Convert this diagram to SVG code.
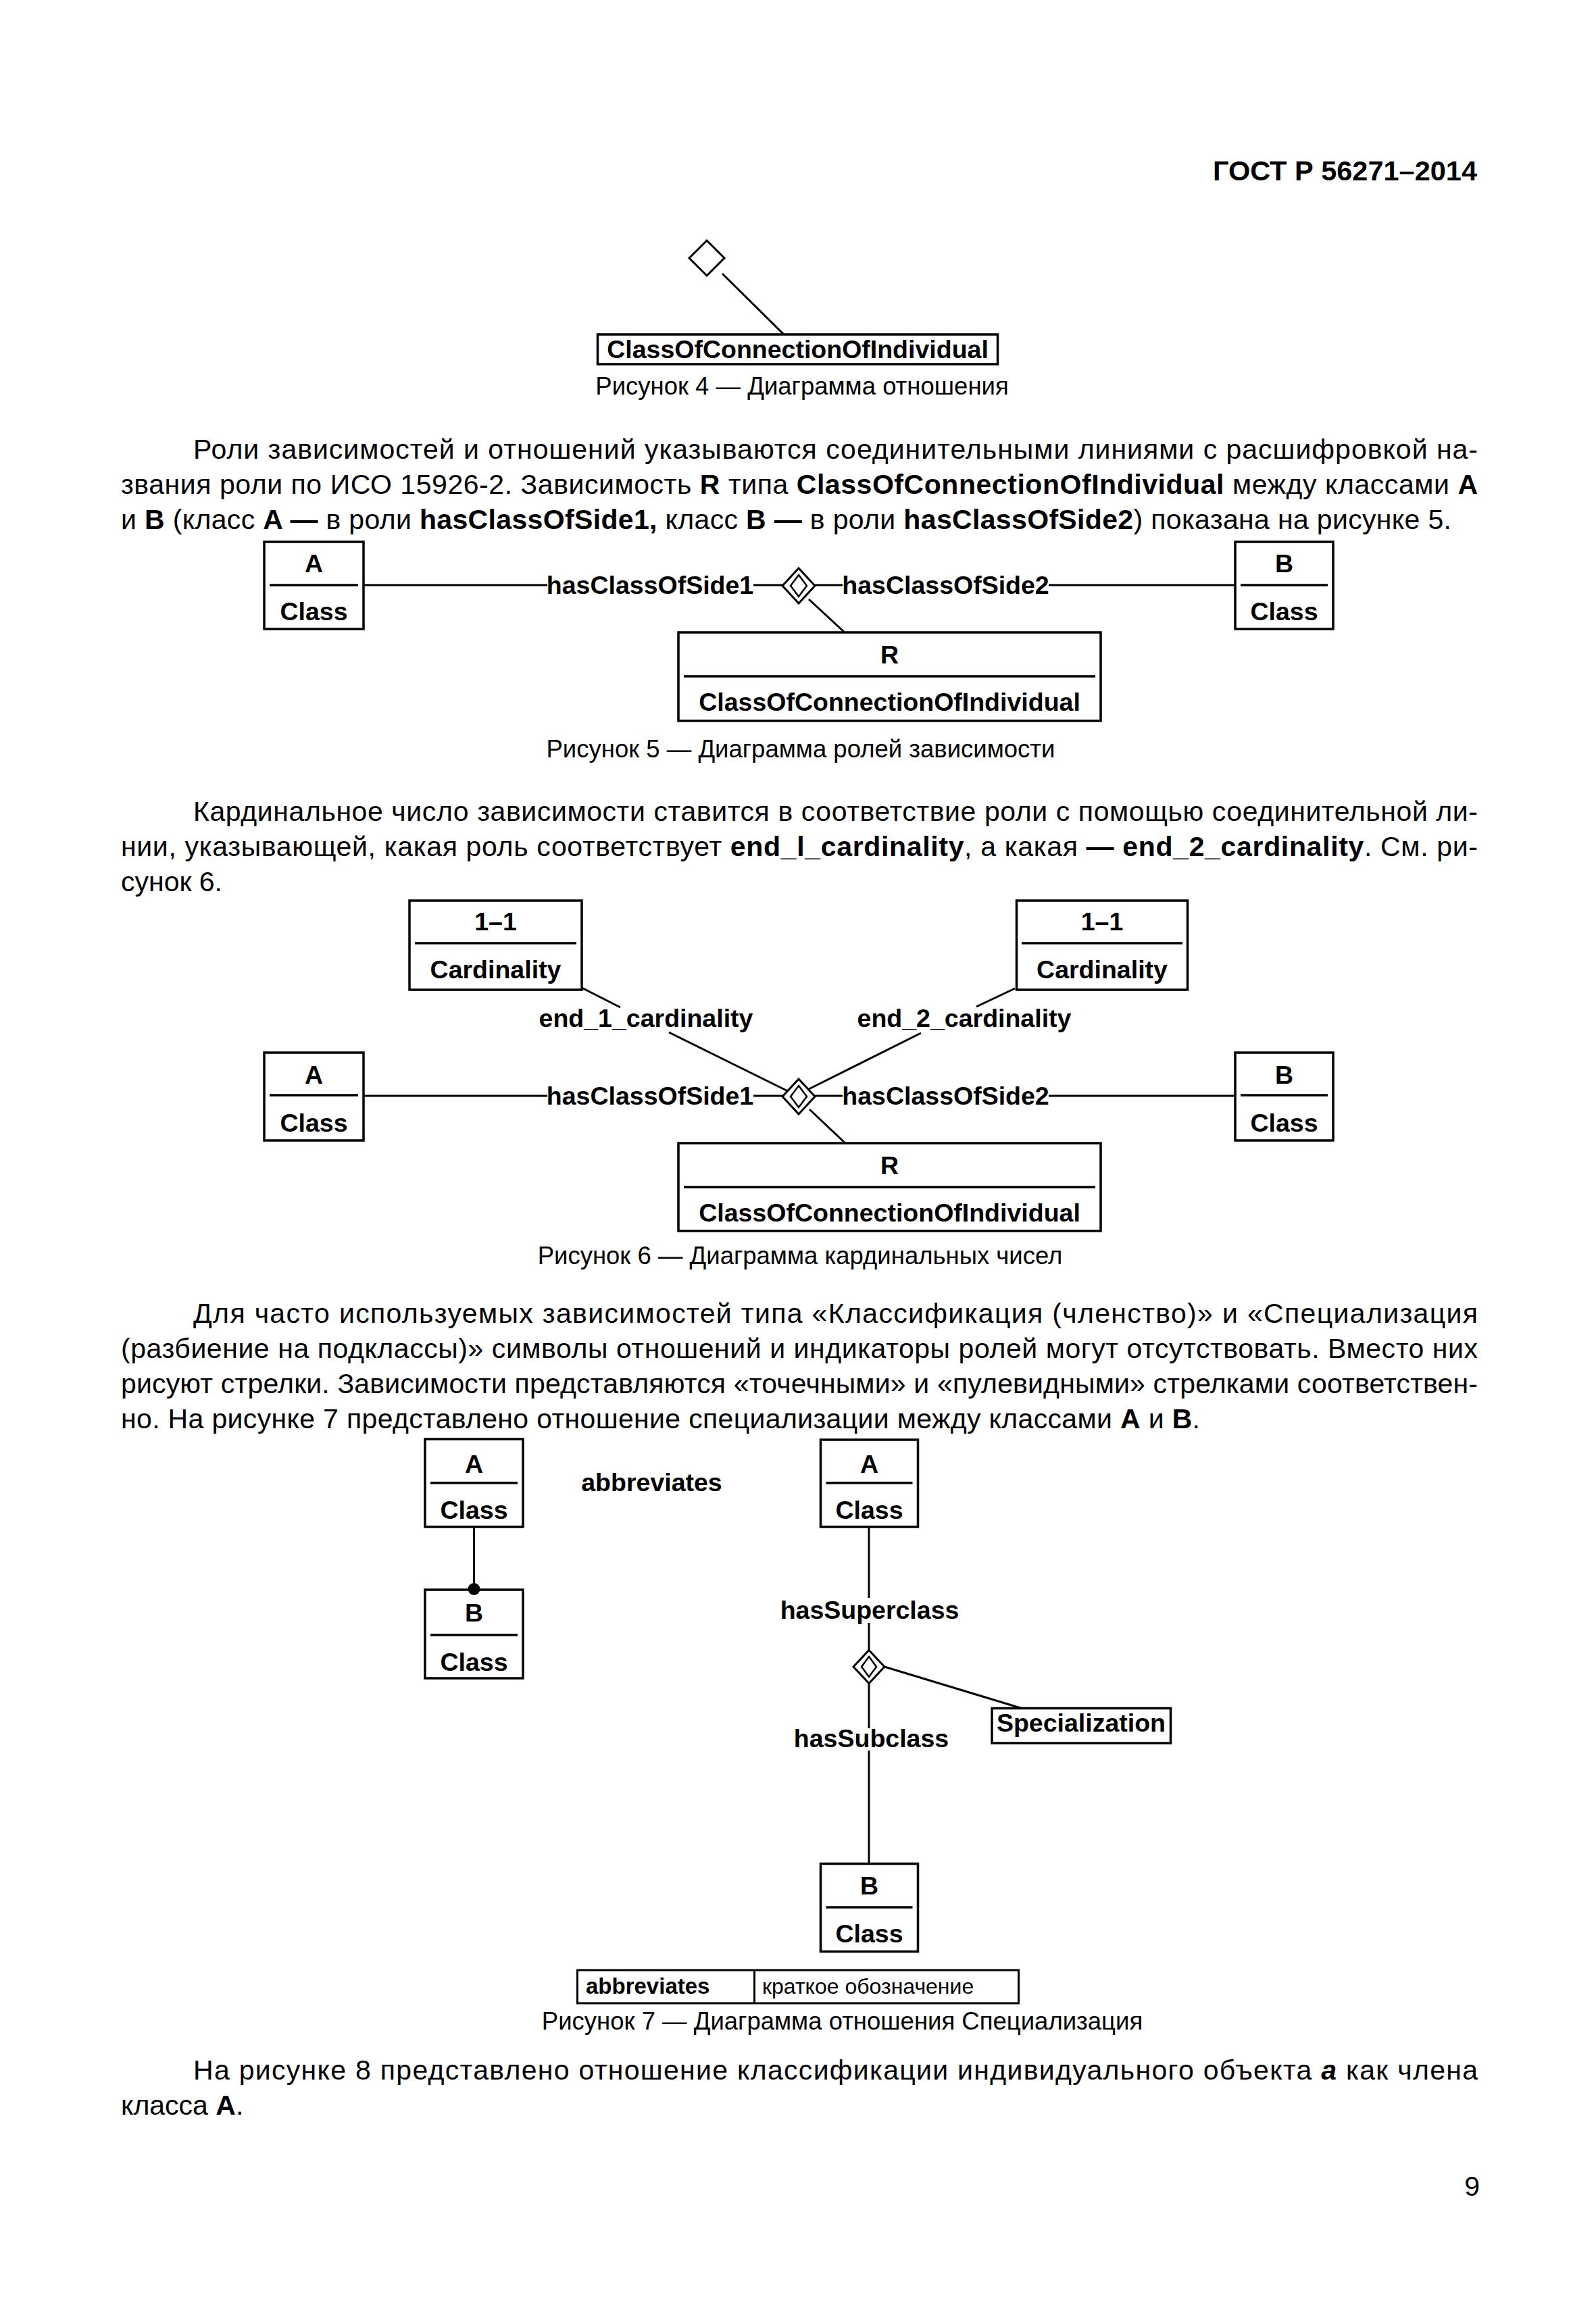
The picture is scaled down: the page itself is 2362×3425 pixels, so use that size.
<svg xmlns="http://www.w3.org/2000/svg" width="2362" height="3425" viewBox="0 0 2362 3425">
<style>
text{font-family:"Liberation Sans",Arial,sans-serif;fill:#000}
.hd{font-size:41.5px;font-weight:bold;text-anchor:end}
.p{font-size:41px}
.cap{font-size:36.5px;text-anchor:middle}
.lb{font-size:37.5px;font-weight:bold;text-anchor:middle}
.bx{fill:#fff;stroke:#000;stroke-width:3.5}
.dv{stroke:#000;stroke-width:3.5;fill:none}
.ln{stroke:#000;stroke-width:3;fill:none}
.dm{fill:#fff;stroke:#000;stroke-width:3}
.dmi{fill:none;stroke:#000;stroke-width:2.5}
</style>
<rect width="2362" height="3425" fill="#fff"/>
<text class="hd" x="2186" y="267">ГОСТ Р 56271–2014</text>

<!-- Figure 4 -->
<g id="fig4-diamond"><path class="dm" stroke-width="3.5" d="M1046,356 L1072,382 L1046,408 L1020,382 Z"/></g>
<g id="fig4-coi"><rect class="bx" x="884.5" y="495" width="592" height="44"/><text class="lb" x="1180.5" y="530">ClassOfConnectionOfIndividual</text></g>
<g id="fig4-connectors"><path class="ln" d="M1069,405 L1160,495"/></g>
<text class="cap" x="1187" y="584">Рисунок 4 — Диаграмма отношения</text>

<!-- Paragraph 1 -->
<text class="p" x="286" y="679" textLength="1901" lengthAdjust="spacing">Роли зависимостей и отношений указываются соединительными линиями с расшифровкой на-</text>
<text class="p" x="179" y="731" textLength="2008" lengthAdjust="spacing">звания роли по ИСО 15926-2. Зависимость <tspan font-weight="bold">R</tspan> типа <tspan font-weight="bold">ClassOfConnectionOfIndividual</tspan> между классами <tspan font-weight="bold">A</tspan></text>
<text class="p" x="179" y="783" textLength="1969" lengthAdjust="spacing">и <tspan font-weight="bold">B</tspan> (класс <tspan font-weight="bold">A —</tspan> в роли <tspan font-weight="bold">hasClassOfSide1,</tspan> класс <tspan font-weight="bold">B —</tspan> в роли <tspan font-weight="bold">hasClassOfSide2</tspan>) показана на рисунке 5.</text>

<!-- Figure 5 -->
<g id="fig5-A"><rect class="bx" x="391" y="802" width="147" height="129"/><path class="dv" d="M399,866 H530"/><text class="lb" x="464.5" y="847">A</text><text class="lb" x="464.5" y="918">Class</text></g>
<g id="fig5-B"><rect class="bx" x="1828" y="802" width="145" height="129"/><path class="dv" d="M1836,866 H1965"/><text class="lb" x="1900.5" y="847">B</text><text class="lb" x="1900.5" y="918">Class</text></g>
<g id="fig5-R"><rect class="bx" x="1004" y="936" width="625" height="131"/><path class="dv" d="M1012,1001 H1621"/><text class="lb" x="1316.5" y="982">R</text><text class="lb" x="1316.5" y="1052">ClassOfConnectionOfIndividual</text></g>
<g id="fig5-relation"><path class="dm" d="M1182,841 L1206,867 L1182,893 L1158,867 Z"/><path class="dmi" d="M1182,851 L1194,867 L1182,883 L1170,867 Z"/></g>
<g id="fig5-connectors">
<path class="ln" d="M538,866 H810 M1115,866 H1158 M1206,866 H1247 M1552,866 H1828 M1197,887 L1250,936"/>
<text class="lb" x="962" y="879">hasClassOfSide1</text>
<text class="lb" x="1399.5" y="879">hasClassOfSide2</text>
</g>
<text class="cap" x="1185" y="1121">Рисунок 5 — Диаграмма ролей зависимости</text>

<!-- Paragraph 2 -->
<text class="p" x="286" y="1215" textLength="1901" lengthAdjust="spacing">Кардинальное число зависимости ставится в соответствие роли с помощью соединительной ли-</text>
<text class="p" x="179" y="1267" textLength="2008" lengthAdjust="spacing">нии, указывающей, какая роль соответствует <tspan font-weight="bold">end_l_cardinality</tspan>, а какая <tspan font-weight="bold">— end_2_cardinality</tspan>. См. ри-</text>
<text class="p" x="179" y="1319">сунок 6.</text>

<!-- Figure 6 -->
<g id="fig6-card1"><rect class="bx" x="606" y="1333" width="255" height="132"/><path class="dv" d="M614,1396 H853"/><text class="lb" x="733.5" y="1377">1–1</text><text class="lb" x="733.5" y="1448">Cardinality</text></g>
<g id="fig6-card2"><rect class="bx" x="1504.5" y="1333" width="253" height="132"/><path class="dv" d="M1512,1396 H1750"/><text class="lb" x="1631" y="1377">1–1</text><text class="lb" x="1631" y="1448">Cardinality</text></g>
<g id="fig6-A"><rect class="bx" x="391" y="1558" width="147" height="130"/><path class="dv" d="M399,1621 H530"/><text class="lb" x="464.5" y="1604">A</text><text class="lb" x="464.5" y="1675">Class</text></g>
<g id="fig6-B"><rect class="bx" x="1828" y="1558" width="145" height="130"/><path class="dv" d="M1836,1621 H1965"/><text class="lb" x="1900.5" y="1604">B</text><text class="lb" x="1900.5" y="1675">Class</text></g>
<g id="fig6-R"><rect class="bx" x="1004" y="1692" width="625" height="130"/><path class="dv" d="M1012,1757 H1621"/><text class="lb" x="1316.5" y="1738">R</text><text class="lb" x="1316.5" y="1808">ClassOfConnectionOfIndividual</text></g>
<g id="fig6-relation"><path class="dm" d="M1182,1597 L1206,1623 L1182,1649 L1158,1623 Z"/><path class="dmi" d="M1182,1607 L1194,1623 L1182,1639 L1170,1623 Z"/></g>
<g id="fig6-connectors">
<path class="ln" d="M538,1622 H810 M1115,1622 H1158 M1206,1622 H1247 M1552,1622 H1828 M1198,1642 L1251,1692"/>
<path class="ln" d="M861,1462 L918,1491 M990,1528 L1166,1615 M1502,1463 L1445,1490 M1363,1529 L1197,1612"/>
<text class="lb" x="962" y="1635">hasClassOfSide1</text>
<text class="lb" x="1399.5" y="1635">hasClassOfSide2</text>
<text class="lb" x="956" y="1520">end_1_cardinality</text>
<text class="lb" x="1427" y="1520">end_2_cardinality</text>
</g>
<text class="cap" x="1184" y="1871">Рисунок 6 — Диаграмма кардинальных чисел</text>

<!-- Paragraph 3 -->
<text class="p" x="286" y="1958" textLength="1901" lengthAdjust="spacing">Для часто используемых зависимостей типа «Классификация (членство)» и «Специализация</text>
<text class="p" x="179" y="2010" textLength="2008" lengthAdjust="spacing">(разбиение на подклассы)» символы отношений и индикаторы ролей могут отсутствовать. Вместо них</text>
<text class="p" x="179" y="2062" textLength="2008" lengthAdjust="spacing">рисуют стрелки. Зависимости представляются «точечными» и «пулевидными» стрелками соответствен-</text>
<text class="p" x="179" y="2114" textLength="1597" lengthAdjust="spacing">но. На рисунке 7 представлено отношение специализации между классами <tspan font-weight="bold">A</tspan> и <tspan font-weight="bold">B</tspan>.</text>

<!-- Figure 7 -->
<g id="fig7-A-left"><rect class="bx" x="629" y="2130" width="145" height="130"/><path class="dv" d="M637,2195 H766"/><text class="lb" x="701.5" y="2180">A</text><text class="lb" x="701.5" y="2248">Class</text></g>
<g id="fig7-B-left"><rect class="bx" x="629" y="2353" width="145" height="131"/><path class="dv" d="M637,2420 H766"/><text class="lb" x="701.5" y="2400">B</text><text class="lb" x="701.5" y="2473">Class</text></g>
<text class="lb" x="964.5" y="2207" font-size="35">abbreviates</text>
<g id="fig7-A-right"><rect class="bx" x="1214.5" y="2131" width="144" height="129"/><path class="dv" d="M1222.5,2195 H1350.5"/><text class="lb" x="1286.5" y="2180">A</text><text class="lb" x="1286.5" y="2248">Class</text></g>
<g id="fig7-specialization"><path class="dm" d="M1286,2442.5 L1309,2467 L1286,2491.5 L1263,2467 Z"/><path class="dmi" d="M1286,2452 L1297,2467 L1286,2482 L1275,2467 Z"/></g>
<g id="fig7-spec-label"><rect class="bx" x="1468" y="2528.5" width="264.5" height="51.5"/><text class="lb" x="1600" y="2563">Specialization</text></g>
<g id="fig7-B-right"><rect class="bx" x="1214.5" y="2758.5" width="144" height="130"/><path class="dv" d="M1222.5,2823 H1350.5"/><text class="lb" x="1286.5" y="2804">B</text><text class="lb" x="1286.5" y="2875">Class</text></g>
<g id="fig7-connectors">
<path class="ln" d="M701.5,2260 V2353"/>
<circle cx="701.5" cy="2352" r="9" fill="#000"/>
<path class="ln" d="M1286,2260 V2365 M1286,2402 V2442.5 M1286,2491.5 V2558 M1286,2591 V2758.5"/>
<path class="ln" stroke-width="4.5" d="M1309,2467 L1512,2528.5"/>
<text class="lb" x="1287" y="2396">hasSuperclass</text>
<text class="lb" x="1289.5" y="2586">hasSubclass</text>
</g>
<g id="fig7-legend"><rect x="854.5" y="2916" width="653" height="49" fill="#fff" stroke="#000" stroke-width="3"/><path class="ln" d="M1116.5,2916 V2965"/><text x="867" y="2951" font-size="33" font-weight="bold">abbreviates</text><text x="1128" y="2951" font-size="32">краткое обозначение</text></g>
<text class="cap" x="1246.5" y="3004">Рисунок 7 — Диаграмма отношения Специализация</text>

<!-- Paragraph 4 -->
<text class="p" x="286" y="3078" textLength="1901" lengthAdjust="spacing">На рисунке 8 представлено отношение классификации индивидуального объекта <tspan font-weight="bold" font-style="italic">a</tspan> как члена</text>
<text class="p" x="179" y="3130">класса <tspan font-weight="bold">A</tspan>.</text>
<text class="p" x="2190" y="3250" text-anchor="end" font-size="36">9</text>
</svg>
